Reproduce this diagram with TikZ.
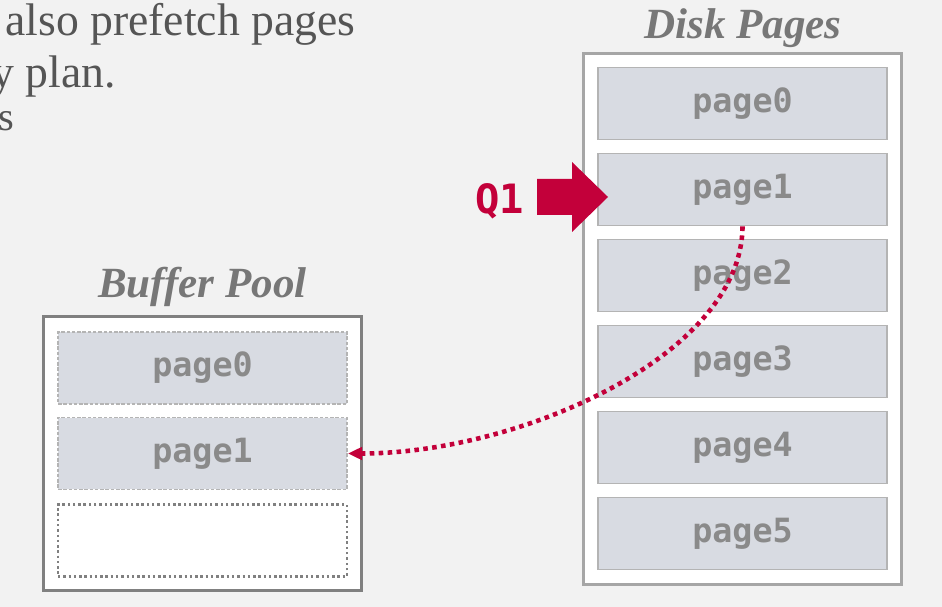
\documentclass[tikz,border=0pt]{standalone}
\usepackage{fontspec}
\setmainfont{Liberation Serif}
\newfontfamily\codefont{DejaVu Sans Mono}
\usetikzlibrary{arrows.meta}
\definecolor{slidebg}{HTML}{F2F2F2}
\definecolor{bodygray}{HTML}{555555}
\definecolor{titlegray}{HTML}{777777}
\definecolor{pagefill}{HTML}{D8DBE2}
\definecolor{pageedge}{HTML}{B4B4B4}
\definecolor{pagetext}{HTML}{8A8A8A}
\definecolor{pooledge}{HTML}{808080}
\definecolor{diskedge}{HTML}{A6A6A6}
\definecolor{qred}{HTML}{C3003A}
\tikzset{
  bodytext/.style={text=bodygray, inner sep=0pt, font=\fontsize{26}{26}\selectfont},
  boxtitle/.style={text=titlegray, inner sep=0pt, font=\bfseries\itshape\fontsize{24.5}{24.5}\selectfont},
  outerbox/.style={draw=#1, line width=1.7pt, fill=white, inner sep=0pt, minimum width=6.38cm},
  pagebox/.style={draw=pageedge, line width=1.1pt, fill=pagefill, inner sep=0pt,
    minimum width=5.78cm, minimum height=1.44cm, text=pagetext,
    font=\codefont\bfseries\fontsize{19}{19}\selectfont},
  poolpage/.style={pagebox, dash pattern=on 2pt off 1pt},
  freeslot/.style={draw=pooledge, line width=1.4pt, dash pattern=on 1.4pt off 1.6pt,
    fill=white, inner sep=0pt, minimum width=5.78cm, minimum height=1.44cm},
  fetch/.style={draw=qred, line width=2.6pt, dash pattern=on 2.6pt off 2.5pt,
    -{Triangle[length=8pt,width=7pt]}}
}
\begin{document}
\begin{tikzpicture}[x=0.02cm,y=-0.02cm]
  \fill[slidebg] (0,0) rectangle (942,607);
  \useasboundingbox (0,0) rectangle (942,607);
  % text cut off at the slide edge
  \node[bodytext, anchor=base west] (line1) at (5,36) {also prefetch pages};
  \node[bodytext, anchor=base east] (line2) at (116,88) {y plan.};
  \node[bodytext, anchor=base east, font=\fontsize{23}{23}\selectfont] (line3) at (15,131) {s};
  % disk
  \node[boxtitle, anchor=base] (disktitle) at (743,39) {Disk Pages};
  \node[outerbox=diskedge, minimum height=10.64cm] (disk) at (742.5,319) {};
  \foreach \i in {0,...,5}
    \node[pagebox] (d\i) at (742.5,103.5+86*\i) {page\i};
  % buffer pool
  \node[boxtitle, anchor=base] (pooltitle) at (202.5,298) {Buffer Pool};
  \node[outerbox=pooledge, minimum height=5.5cm] (pool) at (202.5,453.5) {};
  \node[poolpage] (b0) at (202.5,368) {page0};
  \node[poolpage] (b1) at (202.5,453.5) {page1};
  \node[freeslot] (b2) at (202.5,540.5) {};
  % query
  \node[text=qred, inner sep=0pt, font=\codefont\bfseries\fontsize{23}{23}\selectfont] (q1) at (499.5,201.5) {Q1};
  \fill[qred] (537,179) -- (572,179) -- (572,162) -- (608,197) -- (572,232) -- (572,215) -- (537,215) -- cycle;
  \draw[fetch] (d1.south) .. controls (742,355) and (520,453.5) .. (b1.east);
\end{tikzpicture}
\end{document}
